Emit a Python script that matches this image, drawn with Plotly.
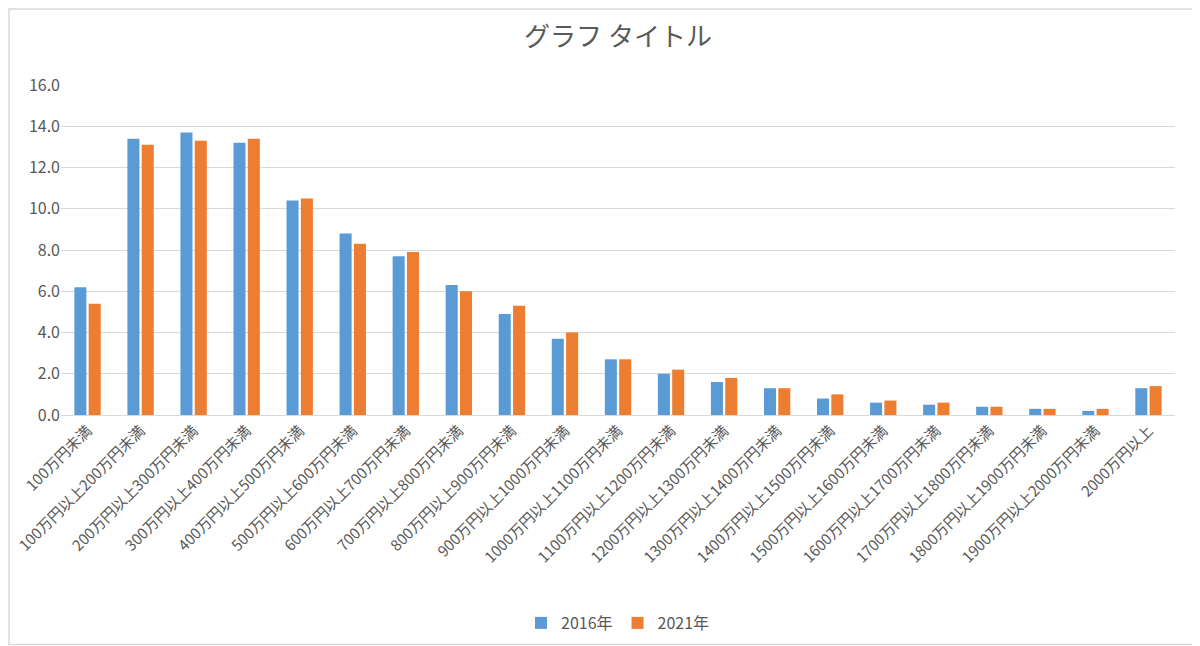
import plotly.graph_objects as go

# 所得階級 (x軸カテゴリ)
categories = [
    "100万円未満",
    "100万円以上200万円未満",
    "200万円以上300万円未満",
    "300万円以上400万円未満",
    "400万円以上500万円未満",
    "500万円以上600万円未満",
    "600万円以上700万円未満",
    "700万円以上800万円未満",
    "800万円以上900万円未満",
    "900万円以上1000万円未満",
    "1000万円以上1100万円未満",
    "1100万円以上1200万円未満",
    "1200万円以上1300万円未満",
    "1300万円以上1400万円未満",
    "1400万円以上1500万円未満",
    "1500万円以上1600万円未満",
    "1600万円以上1700万円未満",
    "1700万円以上1800万円未満",
    "1800万円以上1900万円未満",
    "1900万円以上2000万円未満",
    "2000万円以上",
]

vals_2016 = [6.2, 13.4, 13.7, 13.2, 10.4, 8.8, 7.7, 6.3, 4.9, 3.7, 2.7,
             2.0, 1.6, 1.3, 0.8, 0.6, 0.5, 0.4, 0.3, 0.2, 1.3]
vals_2021 = [5.4, 13.1, 13.3, 13.4, 10.5, 8.3, 7.9, 6.0, 5.3, 4.0, 2.7,
             2.2, 1.8, 1.3, 1.0, 0.7, 0.6, 0.4, 0.3, 0.3, 1.4]

y_ticks = [0, 2, 4, 6, 8, 10, 12, 14, 16]

# page body adds an 8px margin, so the figure is 8px smaller and shifted
OFF = 8
W, H = 1200 - OFF, 646 - OFF
ML, MR, MT, MB = 61 - OFF, 25, 85 - OFF, 239 - OFF

FONT = "Noto Sans CJK JP, Noto Sans, sans-serif"
GRAY = "#595959"

fig = go.Figure()
fig.add_trace(go.Bar(x=categories, y=vals_2016, name="2016年",
                     marker=dict(color="#5B9BD5", line=dict(width=0))))
fig.add_trace(go.Bar(x=categories, y=vals_2021, name="2021年",
                     marker=dict(color="#ED7D31", line=dict(width=0))))

pw = W - ML - MR
ph = H - MT - MB
# outer frame
fig.add_shape(type="rect", xref="paper", yref="paper",
              x0=-(ML - 1) / pw, x1=1 + (MR - 1.5) / pw,
              y0=-(MB - 1.5) / ph, y1=1 + (MT - 1) / ph,
              line=dict(color="#D9D9D9", width=1.5), layer="below")

fig.update_layout(
    width=W, height=H,
    margin=dict(l=ML, r=MR, t=MT, b=MB, autoexpand=False),
    paper_bgcolor="white", plot_bgcolor="white",
    font=dict(family=FONT, color=GRAY, size=16),
    title=dict(text="グラフ タイトル", x=0.5, xref="paper", xanchor="center",
               y=1 - (37 - OFF) / H, yanchor="middle",
               font=dict(size=26, color=GRAY, family=FONT)),
    barmode="group", bargap=0.46, bargroupgap=0.16,
    showlegend=True,
    legend=dict(orientation="h", x=0.5, xanchor="center",
                y=-(615 - 407) / ph, yanchor="middle",
                font=dict(size=16, color=GRAY), itemwidth=30,
                traceorder="normal"),
    xaxis=dict(tickangle=-45, tickfont=dict(size=15, color=GRAY),
               showgrid=False, showline=True, linecolor="#D9D9D9",
               linewidth=1, ticks="", automargin=False),
    yaxis=dict(range=[0, 16], tickvals=y_ticks,
               ticktext=[f"{v:.1f}" for v in y_ticks],
               tickfont=dict(size=16, color=GRAY),
               showgrid=True, gridcolor="#D9D9D9", gridwidth=1,
               zeroline=False, showline=False, ticks="", ticklen=0,
               automargin=False),
)

fig.write_html("out.html")
